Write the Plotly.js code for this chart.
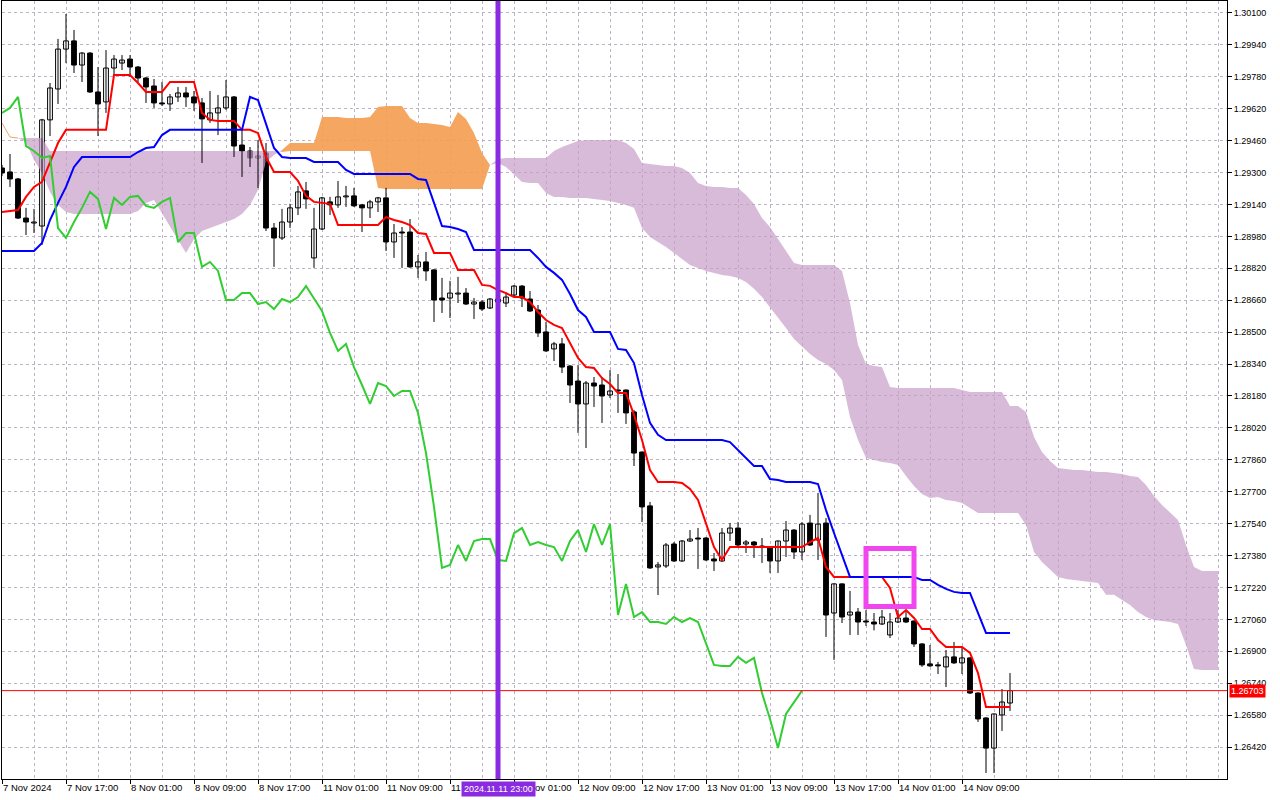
<!DOCTYPE html>
<html><head><meta charset="utf-8">
<script src="https://cdn.plot.ly/plotly-3.0.1.min.js"></script>
<style>html,body{margin:0;padding:0;background:#fff}#chart{width:1280px;height:800px}</style>
</head><body><div id="chart"></div>
<script>
// ---- GBPUSD H1, 7-14 Nov 2024 (bar index 0 = 7 Nov 09:00) ----
const tickIdx = [0,8,16,24,32,40,48,56,64,72,80,88,96,104,112,120];
const tickLabels = ['7 Nov 2024','7 Nov 17:00','8 Nov 01:00','8 Nov 09:00','8 Nov 17:00','11 Nov 01:00','11 Nov 09:00','11 Nov 17:00','12 Nov 01:00','12 Nov 09:00','12 Nov 17:00','13 Nov 01:00','13 Nov 09:00','13 Nov 17:00','14 Nov 01:00','14 Nov 09:00'];
const priceTicks = [1.26420,1.26580,1.26740,1.26900,1.27060,1.27220,1.27380,1.27540,1.27700,1.27860,1.28020,1.28180,1.28340,1.28500,1.28660,1.28820,1.28980,1.29140,1.29300,1.29460,1.29620,1.29780,1.29940,1.30100];

const openP = [1.29323,1.29303,1.29268,1.29072,1.29047,1.29032,1.29564,1.29719,1.29919,1.29960,
1.29839,1.29899,1.29704,1.29654,1.29824,1.29849,1.29869,1.29829,1.29774,1.29734,
1.29649,1.29644,1.29679,1.29699,1.29679,1.29649,1.29564,1.29599,1.29624,1.29679,
1.29438,1.29408,1.29373,1.29398,1.29022,1.28972,1.29052,1.29123,1.29208,1.28872,
1.29017,1.29153,1.29138,1.29178,1.29183,1.29138,1.29123,1.29153,1.29173,1.28952,
1.29002,1.29002,1.28827,1.28852,1.28812,1.28671,1.28671,1.28691,1.28696,1.28641,
1.28651,1.28621,1.28666,1.28646,1.28686,1.28731,1.28666,1.28611,1.28501,1.28416,
1.28441,1.28330,1.28255,1.28140,1.28245,1.28235,1.28185,1.28210,1.28210,1.28100,
1.27899,1.27629,1.27323,1.27328,1.27438,1.27353,1.27453,1.27468,1.27468,1.27363,
1.27353,1.27493,1.27518,1.27438,1.27448,1.27428,1.27418,1.27353,1.27453,1.27508,
1.27398,1.27543,1.27458,1.27543,1.27092,1.27238,1.27082,1.27097,1.27052,1.27047,
1.27037,1.26982,1.27047,1.27067,1.27052,1.26937,1.26837,1.26832,1.26822,1.26872,
1.26842,1.26867,1.26691,1.26566,1.26415,1.26581,1.26641];
const highP = [1.29338,1.29393,1.29273,1.29123,1.29118,1.29569,1.29749,1.29970,1.30095,1.30015,
1.29904,1.29904,1.29829,1.29914,1.29889,1.29889,1.29889,1.29834,1.29779,1.29769,
1.29754,1.29694,1.29729,1.29729,1.29709,1.29674,1.29709,1.29689,1.29764,1.29684,
1.29513,1.29428,1.29463,1.29448,1.29047,1.29118,1.29143,1.29233,1.29253,1.29123,
1.29178,1.29178,1.29258,1.29233,1.29223,1.29143,1.29163,1.29178,1.29223,1.29042,
1.29027,1.29067,1.28887,1.28902,1.28815,1.28772,1.28757,1.28777,1.28721,1.28671,
1.28661,1.28671,1.28686,1.28701,1.28736,1.28736,1.28706,1.28636,1.28551,1.28451,
1.28471,1.28335,1.28335,1.28255,1.28275,1.28275,1.28310,1.28290,1.28212,1.28110,
1.27901,1.27649,1.27348,1.27443,1.27448,1.27458,1.27508,1.27518,1.27473,1.27393,
1.27518,1.27543,1.27548,1.27458,1.27453,1.27468,1.27423,1.27455,1.27553,1.27513,
1.27548,1.27584,1.27694,1.27568,1.27240,1.27240,1.27203,1.27117,1.27107,1.27092,
1.27107,1.27092,1.27107,1.27107,1.27055,1.26940,1.26932,1.26847,1.26907,1.26947,
1.26922,1.26870,1.26695,1.26570,1.26588,1.26711,1.26791];
const lowP = [1.29283,1.29228,1.29067,1.28987,1.28997,1.28937,1.29483,1.29644,1.29849,1.29799,
1.29754,1.29699,1.29483,1.29599,1.29789,1.29814,1.29779,1.29754,1.29649,1.29624,
1.29634,1.29609,1.29654,1.29629,1.29609,1.29348,1.29549,1.29488,1.29614,1.29378,
1.29278,1.29328,1.29223,1.29007,1.28827,1.28962,1.29022,1.29087,1.29118,1.28822,
1.29012,1.29087,1.29123,1.29128,1.29128,1.29002,1.29072,1.29102,1.28907,1.28872,
1.28822,1.28822,1.28772,1.28757,1.28551,1.28596,1.28571,1.28646,1.28636,1.28566,
1.28606,1.28616,1.28621,1.28626,1.28676,1.28626,1.28601,1.28476,1.28401,1.28355,
1.28295,1.28145,1.27995,1.27919,1.28125,1.28045,1.28170,1.28095,1.28040,1.27829,
1.27548,1.27313,1.27182,1.27318,1.27348,1.27348,1.27448,1.27313,1.27353,1.27303,
1.27348,1.27453,1.27428,1.27393,1.27368,1.27343,1.27293,1.27293,1.27373,1.27363,
1.27358,1.27428,1.27358,1.26972,1.26857,1.27042,1.26982,1.26982,1.27027,1.27005,
1.27032,1.26967,1.27042,1.27042,1.26922,1.26822,1.26822,1.26786,1.26721,1.26837,
1.26786,1.26686,1.26546,1.26290,1.26290,1.26501,1.26601];
const closeP = [1.29298,1.29268,1.29072,1.29052,1.29052,1.29564,1.29724,1.29919,1.29960,1.29839,
1.29899,1.29704,1.29644,1.29824,1.29869,1.29864,1.29829,1.29774,1.29729,1.29649,
1.29644,1.29679,1.29699,1.29679,1.29649,1.29569,1.29599,1.29624,1.29679,1.29433,
1.29408,1.29373,1.29383,1.29022,1.28972,1.29052,1.29123,1.29203,1.29168,1.29017,
1.29173,1.29138,1.29178,1.29183,1.29133,1.29123,1.29153,1.29173,1.28952,1.28997,
1.28997,1.28827,1.28852,1.28807,1.28661,1.28661,1.28696,1.28696,1.28641,1.28651,
1.28616,1.28666,1.28651,1.28676,1.28731,1.28671,1.28606,1.28496,1.28406,1.28441,
1.28325,1.28235,1.28140,1.28245,1.28230,1.28180,1.28205,1.28205,1.28095,1.27894,
1.27624,1.27318,1.27333,1.27433,1.27353,1.27453,1.27463,1.27463,1.27358,1.27353,
1.27493,1.27518,1.27433,1.27448,1.27433,1.27423,1.27353,1.27453,1.27508,1.27398,
1.27538,1.27433,1.27538,1.27082,1.27238,1.27072,1.27097,1.27047,1.27047,1.27037,
1.27072,1.27047,1.27067,1.27047,1.26937,1.26832,1.26827,1.26827,1.26872,1.26842,
1.26867,1.26691,1.26561,1.26415,1.26586,1.26646,1.26703];

// Ichimoku (9, 26, 52)
const tenkan = [1.29102,1.29107,1.29112,1.29178,1.29228,1.29253,1.29348,1.29448,1.29514,1.29514,
1.29514,1.29514,1.29514,1.29514,1.29789,1.29789,1.29789,1.29749,1.29704,1.29704,
1.29704,1.29754,1.29754,1.29754,1.29754,1.29599,1.29564,1.29559,1.29559,1.29559,
1.29514,1.29514,1.29498,1.29378,1.29303,1.29303,1.29303,1.29258,1.29183,1.29153,
1.29148,1.29143,1.29037,1.29037,1.29037,1.29037,1.29037,1.29037,1.29077,1.29062,
1.29052,1.29037,1.28997,1.28992,1.28897,1.28897,1.28897,1.28812,1.28812,1.28812,
1.28737,1.28732,1.28711,1.28696,1.28676,1.28676,1.28651,1.28601,1.28561,1.28536,
1.28521,1.28446,1.28371,1.28325,1.28320,1.28270,1.28240,1.28195,1.28195,1.28085,
1.27959,1.27809,1.27749,1.27749,1.27749,1.27744,1.27714,1.27659,1.27543,1.27423,
1.27358,1.27423,1.27423,1.27423,1.27423,1.27423,1.27423,1.27423,1.27423,1.27423,
1.27423,1.27448,1.27468,1.27323,1.27273,1.27273,1.27273,1.27273,1.27273,1.27273,
1.27273,1.27218,1.27072,1.27107,1.27067,1.27012,1.27012,1.26957,1.26922,1.26922,
1.26922,1.26892,1.26791,1.26621,1.26621,1.26621,1.26621];
const kijun = [1.28907,1.28907,1.28907,1.28907,1.28907,1.28947,1.29062,1.29148,1.29228,1.29328,
1.29378,1.29378,1.29378,1.29378,1.29378,1.29378,1.29378,1.29403,1.29423,1.29428,
1.29488,1.29514,1.29514,1.29514,1.29514,1.29514,1.29514,1.29514,1.29514,1.29514,
1.29514,1.29679,1.29664,1.29544,1.29423,1.29378,1.29373,1.29373,1.29373,1.29353,
1.29353,1.29353,1.29353,1.29313,1.29293,1.29293,1.29293,1.29293,1.29293,1.29293,
1.29293,1.29293,1.29268,1.29263,1.29148,1.29032,1.29027,1.29017,1.29002,1.28912,
1.28912,1.28912,1.28912,1.28912,1.28912,1.28912,1.28912,1.28872,1.28827,1.28797,
1.28762,1.28691,1.28611,1.28576,1.28501,1.28501,1.28501,1.28416,1.28411,1.28345,
1.28185,1.28045,1.27985,1.27959,1.27959,1.27959,1.27959,1.27959,1.27959,1.27959,
1.27959,1.27949,1.27909,1.27864,1.27829,1.27829,1.27764,1.27759,1.27749,1.27749,
1.27749,1.27749,1.27739,1.27608,1.27493,1.27378,1.27273,1.27273,1.27273,1.27273,
1.27273,1.27273,1.27273,1.27273,1.27273,1.27258,1.27258,1.27233,1.27213,1.27198,
1.27193,1.27193,1.27092,1.26992,1.26992,1.26992,1.26992];
// Chikou span: close drawn 26 bars back (bars 0..100)
const chikou = [1.29599,1.29624,1.29679,1.29433,1.29408,1.29373,1.29383,1.29022,1.28972,1.29052,
1.29123,1.29203,1.29168,1.29017,1.29173,1.29138,1.29178,1.29183,1.29133,1.29123,
1.29153,1.29173,1.28952,1.28997,1.28997,1.28827,1.28852,1.28807,1.28661,1.28661,
1.28696,1.28696,1.28641,1.28651,1.28616,1.28666,1.28651,1.28676,1.28731,1.28671,
1.28606,1.28496,1.28406,1.28441,1.28325,1.28235,1.28140,1.28245,1.28230,1.28180,
1.28205,1.28205,1.28095,1.27894,1.27624,1.27318,1.27333,1.27433,1.27353,1.27453,
1.27463,1.27463,1.27358,1.27353,1.27493,1.27518,1.27433,1.27448,1.27433,1.27423,
1.27353,1.27453,1.27508,1.27398,1.27538,1.27433,1.27538,1.27082,1.27238,1.27072,
1.27097,1.27047,1.27047,1.27037,1.27072,1.27047,1.27067,1.27047,1.26937,1.26832,
1.26827,1.26827,1.26872,1.26842,1.26867,1.26691,1.26561,1.26415,1.26586,1.26646,
1.26703];
// Senkou spans, bars 0..152 (26 bars ahead of last bar)
const senkouA = [1.29549,1.29478,1.29473,1.29453,1.29363,1.29298,1.29203,1.29138,1.29102,1.29092,
1.29092,1.29092,1.29092,1.29092,1.29092,1.29092,1.29092,1.29107,1.29148,1.29163,
1.29097,1.29027,1.28962,1.28897,1.28967,1.29007,1.29022,1.29037,1.29052,1.29067,
1.29092,1.29138,1.29213,1.29353,1.29388,1.29413,1.29448,1.29448,1.29448,1.29448,
1.29579,1.29579,1.29579,1.29574,1.29574,1.29574,1.29579,1.29629,1.29634,1.29634,
1.29634,1.29574,1.29549,1.29549,1.29544,1.29539,1.29529,1.29604,1.29569,1.29498,
1.29398,1.29338,1.29348,1.29328,1.29288,1.29253,1.29248,1.29248,1.29198,1.29178,
1.29178,1.29173,1.29173,1.29173,1.29168,1.29163,1.29158,1.29148,1.29138,1.29123,
1.29022,1.28977,1.28952,1.28927,1.28897,1.28867,1.28837,1.28822,1.28807,1.28797,
1.28787,1.28782,1.28772,1.28752,1.28717,1.28676,1.28626,1.28576,1.28521,1.28466,
1.28426,1.28391,1.28361,1.28340,1.28310,1.28260,1.28075,1.27959,1.27869,1.27859,
1.27849,1.27844,1.27834,1.27779,1.27729,1.27689,1.27669,1.27674,1.27659,1.27654,
1.27644,1.27619,1.27593,1.27593,1.27593,1.27593,1.27593,1.27593,1.27533,1.27398,
1.27348,1.27308,1.27273,1.27263,1.27258,1.27253,1.27248,1.27243,1.27183,1.27183,
1.27157,1.27132,1.27097,1.27072,1.27057,1.27052,1.27047,1.27037,1.26932,1.26812,
1.26807,1.26807,1.26807];
const senkouB = [1.29549,1.29478,1.29473,1.29473,1.29473,1.29473,1.29408,1.29408,1.29408,1.29408,
1.29408,1.29408,1.29408,1.29408,1.29408,1.29408,1.29408,1.29408,1.29408,1.29408,
1.29408,1.29408,1.29408,1.29408,1.29408,1.29408,1.29408,1.29408,1.29408,1.29408,
1.29408,1.29408,1.29408,1.29408,1.29408,1.29403,1.29408,1.29408,1.29408,1.29408,
1.29408,1.29408,1.29408,1.29408,1.29408,1.29408,1.29408,1.29223,1.29218,1.29218,
1.29218,1.29218,1.29218,1.29218,1.29218,1.29218,1.29218,1.29218,1.29218,1.29218,
1.29218,1.29338,1.29368,1.29373,1.29373,1.29373,1.29373,1.29373,1.29373,1.29408,
1.29428,1.29443,1.29458,1.29463,1.29463,1.29463,1.29463,1.29463,1.29448,1.29418,
1.29348,1.29343,1.29338,1.29333,1.29333,1.29323,1.29298,1.29248,1.29233,1.29228,
1.29228,1.29223,1.29223,1.29188,1.29143,1.29072,1.29027,1.28967,1.28902,1.28847,
1.28837,1.28837,1.28837,1.28837,1.28837,1.28807,1.28646,1.28436,1.28340,1.28330,
1.28325,1.28225,1.28220,1.28220,1.28220,1.28220,1.28220,1.28220,1.28220,1.28220,
1.28210,1.28200,1.28200,1.28200,1.28200,1.28200,1.28130,1.28130,1.28100,1.27975,
1.27899,1.27854,1.27819,1.27814,1.27809,1.27809,1.27804,1.27799,1.27799,1.27794,
1.27789,1.27779,1.27774,1.27734,1.27679,1.27634,1.27598,1.27558,1.27433,1.27323,
1.27303,1.27303,1.27303];

const lastPrice = 1.26703;
const vlineBar = 62;            // 2024.11.11 23:00
const vlineLabel = '2024.11.11 23:00';
const boxBars = [108, 114];     // rectangle object time anchors
const boxPrices = [1.27125, 1.27416];

// ---- build ----
const FONT = 'Liberation Sans, Arial, sans-serif';
const gridC = '#bdb2c6';
const idx = closeP.map((_, i) => i);
const cIdx = senkouA.map((_, i) => i);
const chIdx = chikou.map((_, i) => i);

const wx = [], wy = [];
idx.forEach(i => { wx.push(i, i, null); wy.push(lowP[i], highP[i], null); });
const bodyBase = idx.map(i => Math.min(openP[i], closeP[i]));
const bodyLen = idx.map(i => Math.max(Math.abs(closeP[i] - openP[i]), 0.000012));
const bodyCol = idx.map(i => closeP[i] >= openP[i] ? '#ffffff' : '#000000');

const PINK = 'rgba(200,158,200,0.7)';
const ORANGE = 'rgba(244,158,84,0.92)';
function cloudSeg(a, b, color) {
  const xs = cIdx.slice(a, b + 1);
  return [
    {x: xs, y: senkouB.slice(a, b + 1), type: 'scatter', mode: 'lines', line: {width: 0, color: 'rgba(0,0,0,0)'}, hoverinfo: 'skip'},
    {x: xs, y: senkouA.slice(a, b + 1), type: 'scatter', mode: 'lines', line: {width: 0, color: 'rgba(0,0,0,0)'}, fill: 'tonexty', fillcolor: color, hoverinfo: 'skip'}
  ];
}

const traces = [
  ...cloudSeg(0, 35, PINK),
  ...cloudSeg(35, 61, ORANGE),
  ...cloudSeg(61, 152, PINK),
  {x: cIdx.slice(0, 3), y: senkouA.slice(0, 3), type: 'scatter', mode: 'lines', line: {width: 1, color: '#f4a460'}},
  {x: wx, y: wy, type: 'scatter', mode: 'lines', line: {width: 1, color: '#000'}, connectgaps: false, hoverinfo: 'skip'},
  {x: idx, y: bodyLen, base: bodyBase, type: 'bar', width: 0.6, marker: {color: bodyCol, line: {color: '#000', width: 1}}},
  {x: idx, y: tenkan, type: 'scatter', mode: 'lines', line: {width: 2, color: '#ff0000'}},
  {x: idx, y: kijun, type: 'scatter', mode: 'lines', line: {width: 2, color: '#0000ff'}},
  {x: chIdx, y: chikou, type: 'scatter', mode: 'lines', line: {width: 2, color: '#32cd32'}}
];

const layout = {
  width: 1280, height: 800,
  margin: {l: 2, r: 53, t: 1, b: 21, pad: 0},
  paper_bgcolor: '#ffffff', plot_bgcolor: '#ffffff',
  showlegend: false, hovermode: false, barmode: 'overlay',
  font: {family: FONT, size: 9, color: '#000'},
  xaxis: {
    range: [0, 153.125], tickmode: 'array', tickvals: tickIdx, ticktext: tickLabels,
    ticks: 'outside', ticklen: 4, tickcolor: '#000', tickwidth: 1,
    ticklabelposition: 'outside right', tickangle: 0,
    tickfont: {family: FONT, size: 9.5, color: '#000'},
    showline: true, linecolor: '#000', linewidth: 1, mirror: true,
    showgrid: true, gridcolor: gridC, griddash: '3px,3px', gridwidth: 1,
    minor: {tickmode: 'linear', tick0: 0, dtick: 4, showgrid: true, gridcolor: gridC, griddash: '3px,3px', gridwidth: 1, ticks: ''},
    zeroline: false, fixedrange: true, rangeslider: {visible: false}
  },
  yaxis: {
    side: 'right', range: [1.26260, 1.30160], tickmode: 'array', tickvals: priceTicks,
    ticktext: priceTicks.map(v => v.toFixed(5)),
    ticks: 'outside', ticklen: 4, tickcolor: '#000', tickwidth: 1,
    tickfont: {family: FONT, size: 9, color: '#000'},
    showline: true, linecolor: '#000', linewidth: 1, mirror: true,
    showgrid: true, gridcolor: gridC, griddash: '3px,3px', gridwidth: 1,
    zeroline: false, fixedrange: true
  },
  shapes: [
    {type: 'line', xref: 'paper', yref: 'y', x0: 0, x1: 1, y0: lastPrice, y1: lastPrice, line: {color: '#ff0000', width: 1}, layer: 'above'},
    {type: 'rect', xref: 'x', yref: 'y', x0: boxBars[0], x1: boxBars[1], y0: boxPrices[0], y1: boxPrices[1], line: {color: '#f046f0', width: 5}, fillcolor: 'rgba(0,0,0,0)', layer: 'above'},
    {type: 'line', xref: 'x', yref: 'paper', x0: vlineBar, x1: vlineBar, y0: 0, y1: 1, line: {color: '#8a2be2', width: 5}, layer: 'above'}
  ],
  annotations: [
    {xref: 'x', yref: 'paper', x: vlineBar, y: 0, xanchor: 'center', yanchor: 'top', yshift: -2,
     text: vlineLabel, showarrow: false, bgcolor: '#8a2be2', borderpad: 2,
     font: {family: FONT, size: 9, color: '#ffffff'}},
    {xref: 'paper', yref: 'y', x: 1, y: lastPrice, xanchor: 'left', yanchor: 'middle', xshift: 2,
     text: lastPrice.toFixed(5), showarrow: false, bgcolor: '#ff0000', borderpad: 1,
     font: {family: FONT, size: 9, color: '#ffffff'}}
  ]
};

Plotly.newPlot('chart', traces, layout, {staticPlot: true, displayModeBar: false});
</script>
</body></html>
